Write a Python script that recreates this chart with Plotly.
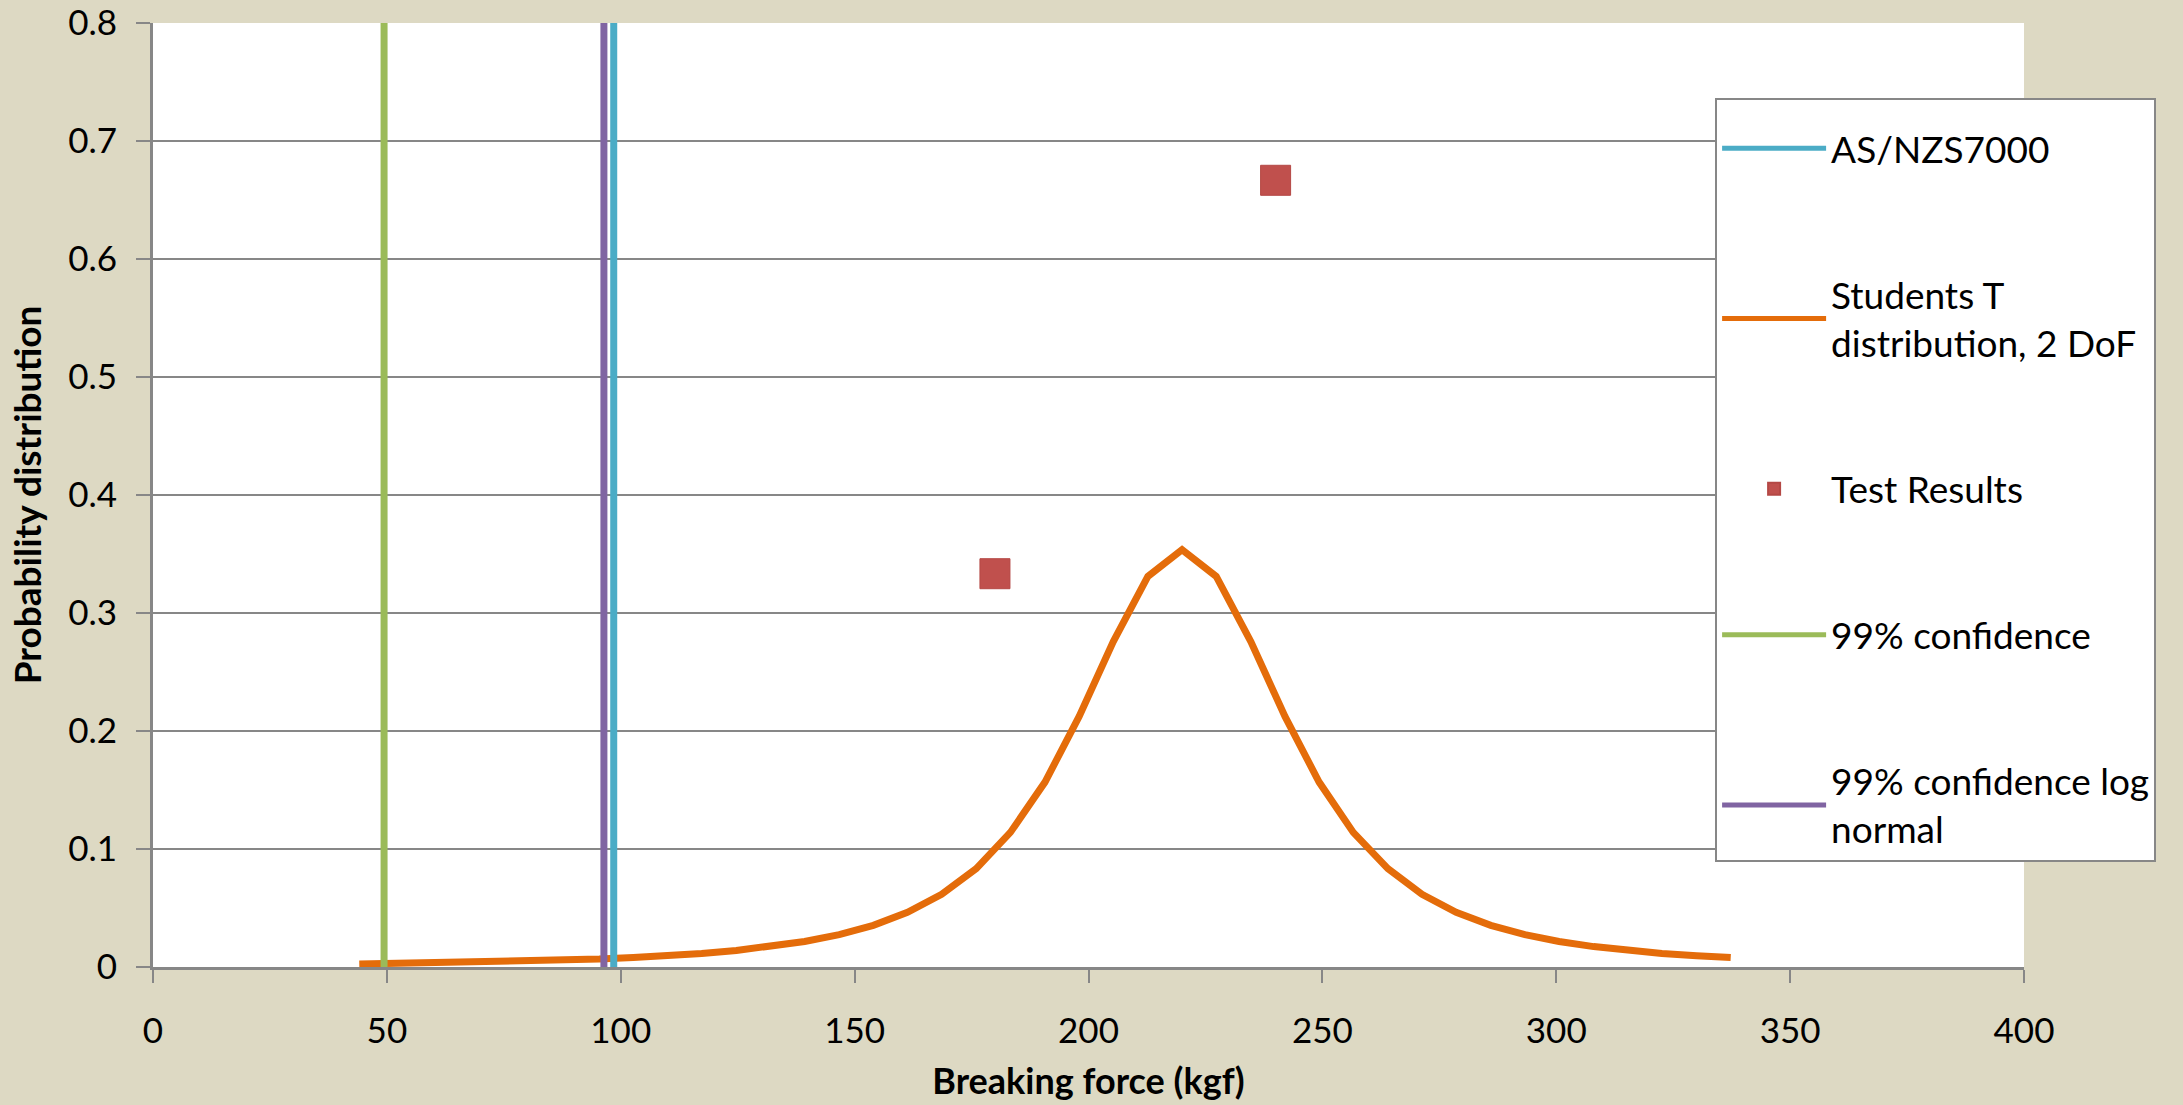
import plotly.graph_objects as go

# ---- data ----
force_x = [44.1, 51.4, 58.7, 66.1, 73.4, 80.7, 88.0, 95.4, 102.7, 110.1, 117.3,
           124.7, 132.0, 139.3, 146.7, 154.0, 161.3, 168.6, 176.0, 183.3, 190.7,
           198.0, 205.3, 212.7, 220.0, 227.3, 234.7, 242.0, 249.3, 256.6, 264.0,
           271.3, 278.6, 286.0, 293.3, 300.6, 308.0, 315.3, 322.6, 330.0, 337.3]
t_pdf = [0.0025, 0.0029, 0.0033, 0.0037, 0.0043, 0.0049, 0.0057, 0.0067, 0.0080,
         0.0095, 0.0115, 0.0140, 0.0173, 0.0216, 0.0274, 0.0353, 0.0463, 0.0616,
         0.0834, 0.1141, 0.1567, 0.2123, 0.2758, 0.3310, 0.3536, 0.3310, 0.2758,
         0.2123, 0.1567, 0.1141, 0.0834, 0.0616, 0.0463, 0.0353, 0.0274, 0.0216,
         0.0173, 0.0140, 0.0115, 0.0095, 0.0080]
test_x = [180, 240]
test_y = [0.3333, 0.6667]
as_nzs = 98.5
conf99 = 49.4
conf99_log = 96.4
line_y = [0, 0.8]
x_ticks = [0, 50, 100, 150, 200, 250, 300, 350, 400]
y_ticks = [0, 0.1, 0.2, 0.3, 0.4, 0.5, 0.6, 0.7, 0.8]
y_tick_text = ["0", "0.1", "0.2", "0.3", "0.4", "0.5", "0.6", "0.7", "0.8"]

FONT = "Lato"
GRID = "#878787"

fig = go.Figure()
fig.add_trace(go.Scatter(x=force_x, y=t_pdf, mode="lines",
                         name="Students T<br>distribution, 2 DoF",
                         line=dict(color="#E46C0A", width=7), legendrank=2,
                         legendgroup="b"))
fig.add_trace(go.Scatter(x=test_x, y=test_y, mode="markers", name="Test Results",
                         marker=dict(symbol="square", size=30, color="#C0504D",
                                     line=dict(color="#B44845", width=1)),
                         legendrank=3, legendgroup="c"))
fig.add_trace(go.Scatter(x=[conf99, conf99], y=line_y, mode="lines",
                         name="99% confidence",
                         line=dict(color="#9BBB59", width=7), legendrank=4,
                         legendgroup="d"))
fig.add_trace(go.Scatter(x=[conf99_log, conf99_log], y=line_y, mode="lines",
                         name="99% confidence log<br>normal",
                         line=dict(color="#8064A2", width=7), legendrank=5,
                         legendgroup="e"))
fig.add_trace(go.Scatter(x=[as_nzs, as_nzs], y=line_y, mode="lines",
                         name="AS/NZS7000",
                         line=dict(color="#4BACC6", width=7), legendrank=1,
                         legendgroup="a"))

fig.update_layout(
    width=2183, height=1105,
    margin=dict(l=153, r=159, t=23, b=138, autoexpand=False),
    paper_bgcolor="#DDD9C3", plot_bgcolor="white",
    font=dict(family=FONT, size=35, color="black"),
    showlegend=True,
    legend=dict(x=0.8349, y=0.921, xanchor="left", yanchor="top",
                bgcolor="white", bordercolor=GRID, borderwidth=2,
                font=dict(family=FONT, size=37, color="black"),
                title=dict(text=" ", font=dict(size=14)),
                tracegroupgap=95, itemwidth=104, traceorder="grouped",
                itemsizing="constant"),
    xaxis=dict(range=[0, 400], tickvals=x_ticks, showgrid=False,
               showline=True, linecolor=GRID, linewidth=3,
               ticks="outside", ticklen=13, tickwidth=2, tickcolor=GRID,
               ticklabelstandoff=18,
               title=dict(text="<b>Breaking force (kgf)</b>",
                          font=dict(family=FONT, size=36), standoff=20),
               zeroline=False, fixedrange=True),
    yaxis=dict(range=[0, 0.8], tickvals=y_ticks, ticktext=y_tick_text,
               showgrid=True, gridcolor=GRID, gridwidth=2,
               showline=True, linecolor=GRID, linewidth=3,
               ticks="outside", ticklen=14, tickwidth=2, tickcolor=GRID,
               ticklabelstandoff=12,
               title=dict(text="<b>Probability distribution</b>",
                          font=dict(family=FONT, size=37), standoff=16),
               zeroline=False, fixedrange=True),
)

fig.write_html("out.html")
